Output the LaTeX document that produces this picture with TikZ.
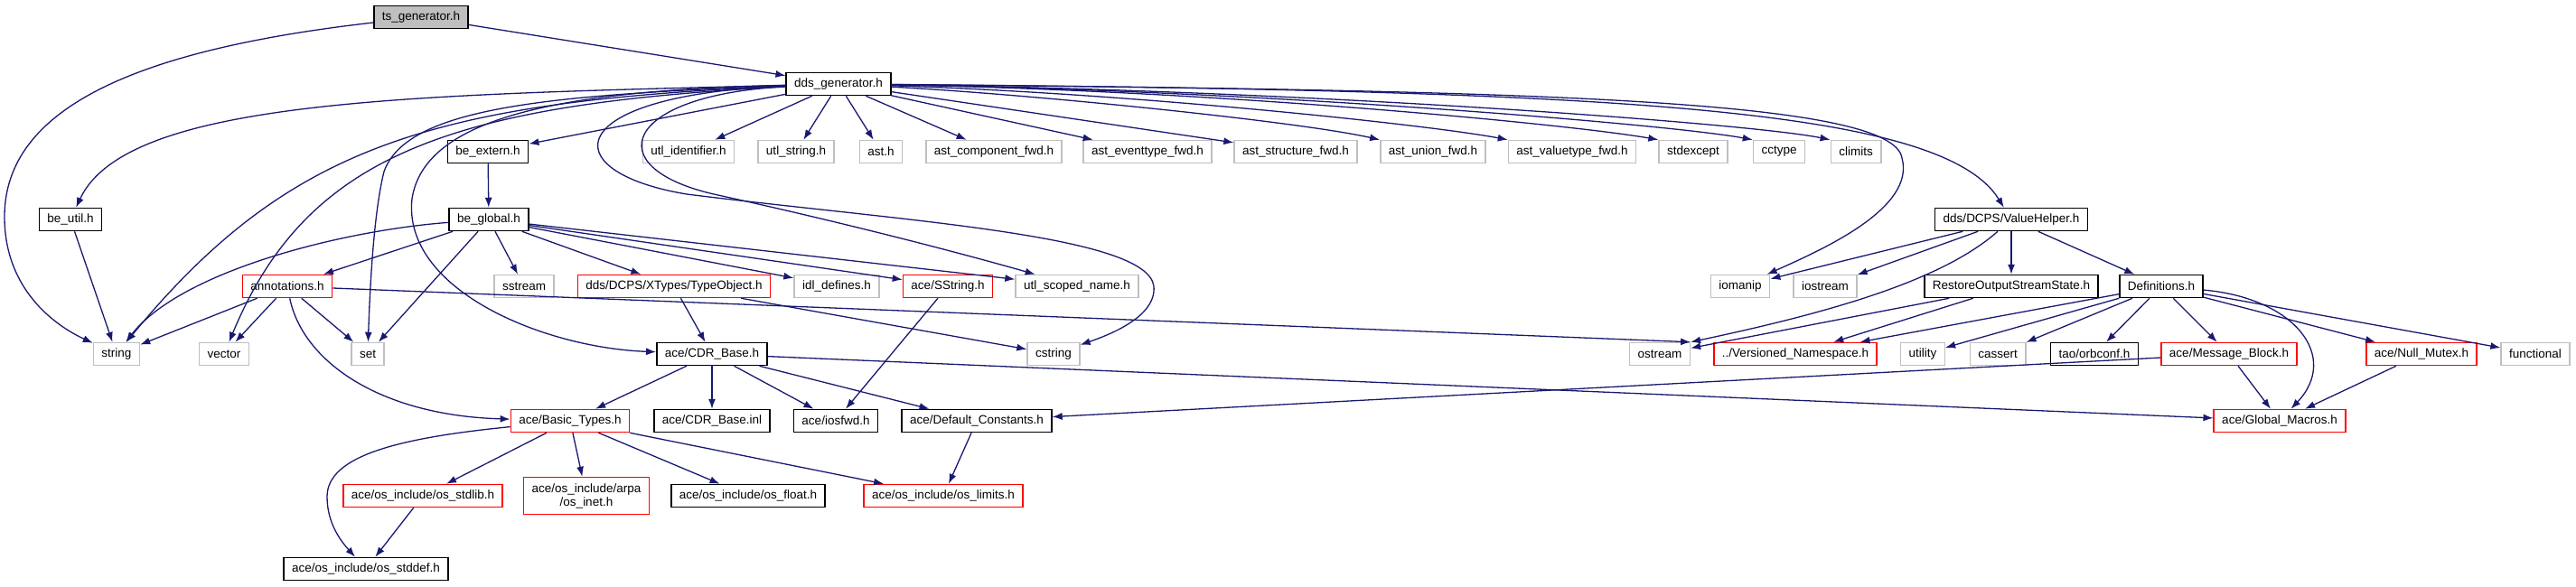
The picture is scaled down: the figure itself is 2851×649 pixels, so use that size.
\documentclass[tikz,border=0pt]{standalone}
\usepackage{fontspec}
\setmainfont{Liberation Sans}
\usetikzlibrary{arrows.meta}
\definecolor{edgeblue}{HTML}{191970}
\definecolor{sysgray}{HTML}{BFBFBF}
\tikzset{>={Latex[length=11pt,width=8pt]}}
\tikzset{hdr/.style={draw=black, fill=white, line width=1.5pt, minimum height=25pt,
  inner xsep=9pt, inner ysep=0pt, font=\fontsize{13.5}{15}\selectfont}}
\tikzset{syshdr/.style={hdr, draw=sysgray}}
\tikzset{cuthdr/.style={hdr, draw=red}}
\tikzset{dep/.style={->, draw=edgeblue, line width=1.3pt}}

\begin{document}
\begin{tikzpicture}[x=1pt, y=-1pt]

    \useasboundingbox (0,0) rectangle (2851,649);

    \node[hdr, fill=sysgray] (ts) at (466,19) {ts\_generator.h};
    \node[hdr] (dds) at (928,93) {dds\_generator.h};

    \node[hdr] (beext) at (540,168) {be\_extern.h};
    \node[syshdr] (utlid) at (762,168) {utl\_identifier.h};
    \node[syshdr] (utlstr) at (881,168) {utl\_string.h};
    \node[syshdr] (ast) at (975,168) {ast.h};
    \node[syshdr] (astcomp) at (1100,168) {ast\_component\_fwd.h};
    \node[syshdr] (astevt) at (1270,168) {ast\_eventtype\_fwd.h};
    \node[syshdr] (aststruct) at (1434,168) {ast\_structure\_fwd.h};
    \node[syshdr] (astunion) at (1586,168) {ast\_union\_fwd.h};
    \node[syshdr] (astval) at (1740,168) {ast\_valuetype\_fwd.h};
    \node[syshdr] (stdexc) at (1874,168) {stdexcept};
    \node[syshdr] (cctype) at (1969,168) {cctype};
    \node[syshdr] (climits) at (2054,168) {climits};

    \node[hdr] (beutil) at (78,243) {be\_util.h};
    \node[hdr] (beglob) at (541,243) {be\_global.h};
    \node[hdr] (valhelp) at (2226,243) {dds/DCPS/ValueHelper.h};

    \node[cuthdr] (annot) at (318,317) {annotations.h};
    \node[syshdr] (sstream) at (580,317) {sstream};
    \node[cuthdr] (typeobj) at (746,317) {dds/DCPS/XTypes/TypeObject.h};
    \node[syshdr] (idldef) at (926,317) {idl\_defines.h};
    \node[cuthdr] (sstring) at (1049,317) {ace/SString.h};
    \node[syshdr] (scoped) at (1192,317) {utl\_scoped\_name.h};
    \node[syshdr] (iomanip) at (1926,317) {iomanip};
    \node[syshdr] (iostream) at (2020,317) {iostream};
    \node[hdr] (restore) at (2226,317) {RestoreOutputStreamState.h};
    \node[hdr] (defs) at (2392,317) {Definitions.h};

    \node[syshdr] (string) at (129,392) {string};
    \node[syshdr] (vector) at (248,392) {vector};
    \node[syshdr] (set) at (407,392) {set};
    \node[hdr] (cdr) at (788,392) {ace/CDR\_Base.h};
    \node[syshdr] (cstring) at (1166,392) {cstring};
    \node[syshdr] (ostream) at (1837,392) {ostream};
    \node[cuthdr] (versioned) at (1987,392) {../Versioned\_Namespace.h};
    \node[syshdr] (utility) at (2128,392) {utility};
    \node[syshdr] (cassert) at (2211,392) {cassert};
    \node[hdr] (orbconf) at (2318,392) {tao/orbconf.h};
    \node[cuthdr] (msgblock) at (2467,392) {ace/Message\_Block.h};
    \node[cuthdr] (nullmutex) at (2680,392) {ace/Null\_Mutex.h};
    \node[syshdr] (functional) at (2806,392) {functional};

    \node[cuthdr] (basictypes) at (631,466) {ace/Basic\_Types.h};
    \node[hdr] (cdrinl) at (788,466) {ace/CDR\_Base.inl};
    \node[hdr] (iosfwd) at (925,466) {ace/iosfwd.h};
    \node[hdr] (defconst) at (1081,466) {ace/Default\_Constants.h};
    \node[cuthdr] (globmac) at (2523,466) {ace/Global\_Macros.h};

    \node[cuthdr] (stdlib) at (468,549) {ace/os\_include/os\_stdlib.h};
    \node[cuthdr, align=center, minimum height=41pt] (inet) at (649,549) {ace/os\_include/arpa\\/os\_inet.h};
    \node[hdr] (float) at (828,549) {ace/os\_include/os\_float.h};
    \node[cuthdr] (limits) at (1044,549) {ace/os\_include/os\_limits.h};

    \node[hdr] (stddef) at (405,630) {ace/os\_include/os\_stddef.h};


    \draw[dep] (ts) -- (dds);
    \draw[dep] (ts) .. controls (150,55) and (5,120) .. (5,240) .. controls (5,320) and (60,360) .. (string);

    \draw[dep] (dds) .. controls (450,105) and (140,110) .. (beutil);
    \draw[dep] (dds) .. controls (480,112) and (320,160) .. (string);
    \draw[dep] (dds) .. controls (500,115) and (340,170) .. (vector);
    \draw[dep] (dds) .. controls (600,105) and (450,120) .. (425,190) .. controls (415,230) and (410,300) .. (set);
    \draw[dep] (dds) .. controls (620,100) and (470,130) .. (456,220) .. controls (445,320) and (600,385) .. (cdr);
    \draw[dep] (dds) .. controls (620,105) and (610,190) .. (760,215) .. controls (1000,245) and (1270,260) .. (1277,317) .. controls (1280,350) and (1230,370) .. (cstring);
    \draw[dep] (dds) .. controls (690,105) and (660,185) .. (790,215) .. controls (950,250) and (1080,285) .. (scoped);
    \draw[dep] (dds) -- (beext);
    \draw[dep] (dds) -- (utlid);
    \draw[dep] (dds) -- (utlstr);
    \draw[dep] (dds) -- (ast);
    \draw[dep] (dds) -- (astcomp);
    \draw[dep] (dds) -- (astevt);
    \draw[dep] (dds) -- (aststruct);
    \draw[dep] (dds) .. controls (1150,105) and (1440,135) .. (astunion.north west);
    \draw[dep] (dds) .. controls (1250,103) and (1580,138) .. (astval.north west);
    \draw[dep] (dds) .. controls (1350,100) and (1740,138) .. (stdexc.north west);
    \draw[dep] (dds) .. controls (1400,100) and (1850,138) .. (cctype.north west);
    \draw[dep] (dds) .. controls (1450,100) and (1940,137) .. (climits.north west);
    \draw[dep] (dds) .. controls (1700,100) and (2095,110) .. (2105,175) .. controls (2120,230) and (2020,275) .. (iomanip);
    \draw[dep] (dds) .. controls (1800,100) and (2150,120) .. (valhelp);

    \draw[dep] (beext) -- (beglob);
    \draw[dep] (beutil) -- (string);

    \draw[dep] (beglob) .. controls (380,255) and (200,300) .. (string);
    \draw[dep] (beglob) -- (annot);
    \draw[dep] (beglob) -- (set);
    \draw[dep] (beglob) -- (sstream);
    \draw[dep] (beglob) -- (typeobj);
    \draw[dep] (beglob) -- (idldef);
    \draw[dep] (beglob) -- (sstring);
    \draw[dep] (beglob) -- (scoped);

    \draw[dep] (valhelp) -- (iomanip);
    \draw[dep] (valhelp) -- (iostream);
    \draw[dep] (valhelp) .. controls (2150,310) and (2030,345) .. (ostream.north east);
    \draw[dep] (valhelp) -- (restore);
    \draw[dep] (valhelp) -- (defs);

    \draw[dep] (restore) -- (ostream);
    \draw[dep] (restore) -- (versioned);

    \draw[dep] (defs) -- (versioned);
    \draw[dep] (defs) -- (utility);
    \draw[dep] (defs) -- (cassert);
    \draw[dep] (defs) -- (orbconf);
    \draw[dep] (defs) -- (msgblock);
    \draw[dep] (defs) -- (nullmutex);
    \draw[dep] (defs) -- (functional);
    \draw[dep] (defs) .. controls (2540,330) and (2590,395) .. (globmac);

    \draw[dep] (annot) -- (string);
    \draw[dep] (annot) -- (vector);
    \draw[dep] (annot) -- (set);
    \draw[dep] (annot) -- (ostream.north east);
    \draw[dep] (annot) .. controls (335,400) and (420,460) .. (basictypes);

    \draw[dep] (typeobj) -- (cdr);
    \draw[dep] (typeobj) -- (cstring);
    \draw[dep] (sstring) -- (iosfwd);

    \draw[dep] (cdr) -- (basictypes);
    \draw[dep] (cdr) -- (cdrinl);
    \draw[dep] (cdr) -- (iosfwd);
    \draw[dep] (cdr) -- (defconst);
    \draw[dep] (cdr) -- (globmac);

    \draw[dep] (msgblock) -- (defconst);
    \draw[dep] (msgblock) -- (globmac);
    \draw[dep] (nullmutex) -- (globmac);

    \draw[dep] (basictypes) .. controls (440,485) and (362,505) .. (362,550) .. controls (362,580) and (378,600) .. (stddef);
    \draw[dep] (basictypes) -- (stdlib);
    \draw[dep] (basictypes) -- (inet);
    \draw[dep] (basictypes) -- (float);
    \draw[dep] (basictypes) -- (limits);
    \draw[dep] (stdlib) -- (stddef);
    \draw[dep] (defconst) -- (limits);

\end{tikzpicture}
\end{document}
